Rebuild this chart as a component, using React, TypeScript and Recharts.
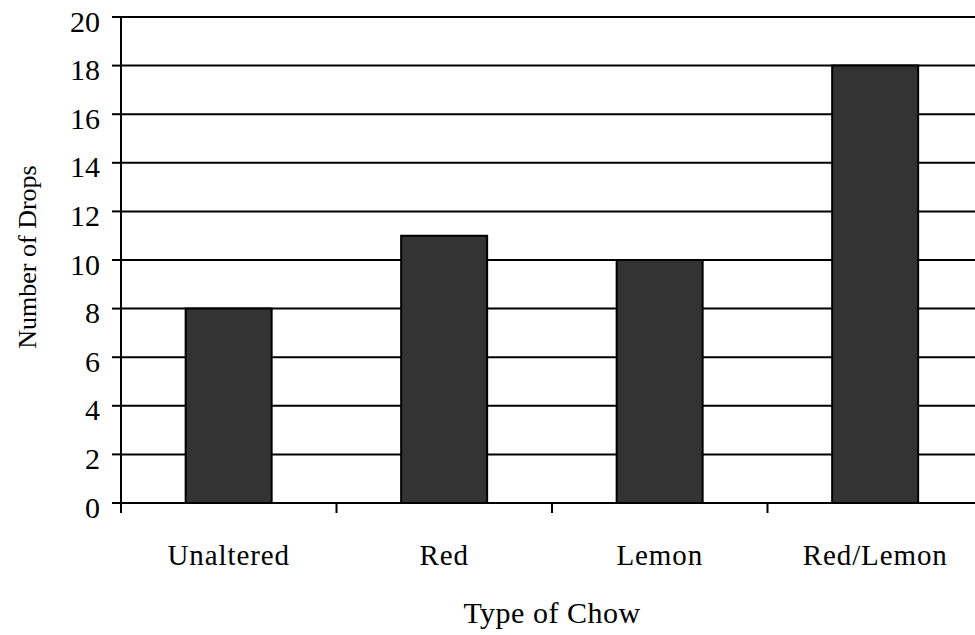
import { BarChart, Bar, XAxis, YAxis, CartesianGrid } from "recharts";

const chowTypes = ["Unaltered", "Red", "Lemon", "Red/Lemon"];
const dropCounts = [8, 11, 10, 18];
const yTicks = [0, 2, 4, 6, 8, 10, 12, 14, 16, 18, 20];

const data = chowTypes.map((name, i) => ({ name, drops: dropCounts[i] }));

const FONT = '"Liberation Serif", "Times New Roman", serif';
const TICK_SIZE = 10;
const TICK_MARGIN = 31;

function CategoryTick(props: any) {
  const { x, y, payload } = props;
  const half = payload && payload.offset ? payload.offset : 0;
  const axisY = y - TICK_SIZE - TICK_MARGIN;
  return (
    <g>
      <line x1={x - half} x2={x - half} y1={axisY} y2={axisY + TICK_SIZE} stroke="#000" strokeWidth={2} />
      <text
        x={x}
        y={y}
        dy="0.71em"
        textAnchor="middle"
        fontFamily={FONT}
        fontSize={29}
        letterSpacing={0.9}
        fill="#000"
      >
        {payload.value}
      </text>
    </g>
  );
}

function YTitle(props: any) {
  const vb = props.viewBox || { x: 0, y: 0, width: 0, height: 0 };
  const cx = vb.x + 27;
  const cy = vb.y + vb.height / 2 - 3;
  return (
    <text
      x={cx}
      y={cy}
      transform={`rotate(-90, ${cx}, ${cy})`}
      textAnchor="middle"
      dominantBaseline="central"
      fontFamily={FONT}
      fontSize={26}
      fill="#000"
    >
      Number of Drops
    </text>
  );
}

export default function App() {
  return (
    <div style={{ position: "absolute", left: 0, top: 0, width: 975, height: 635, overflow: "hidden", background: "#fff" }}>
      <BarChart
        width={1000}
        height={635}
        data={data}
        margin={{ top: 17, right: 17, left: 0, bottom: 0 }}
        barCategoryGap="30%"
      >
        <CartesianGrid vertical={false} stroke="#000" strokeWidth={2} />
        <XAxis
          dataKey="name"
          height={132}
          axisLine={{ stroke: "#000", strokeWidth: 2 }}
          tickLine={false}
          tickSize={TICK_SIZE}
          tickMargin={TICK_MARGIN}
          tick={<CategoryTick />}
          interval={0}
          label={{
            value: "Type of Chow",
            position: "insideBottom",
            offset: 12,
            fontFamily: FONT,
            fontSize: 30,
            letterSpacing: 0.5,
            fill: "#000",
          }}
        />
        <YAxis
          width={121}
          domain={[0, 20]}
          ticks={yTicks}
          interval={0}
          axisLine={{ stroke: "#000", strokeWidth: 2 }}
          tickLine={{ stroke: "#000", strokeWidth: 2 }}
          tickSize={9}
          tickMargin={12}
          tick={{ fontFamily: FONT, fontSize: 30, fill: "#000", dy: 4 }}
          label={<YTitle />}
        />
        <Bar dataKey="drops" fill="#333333" stroke="#000" strokeWidth={2} isAnimationActive={false} />
      </BarChart>
    </div>
  );
}
